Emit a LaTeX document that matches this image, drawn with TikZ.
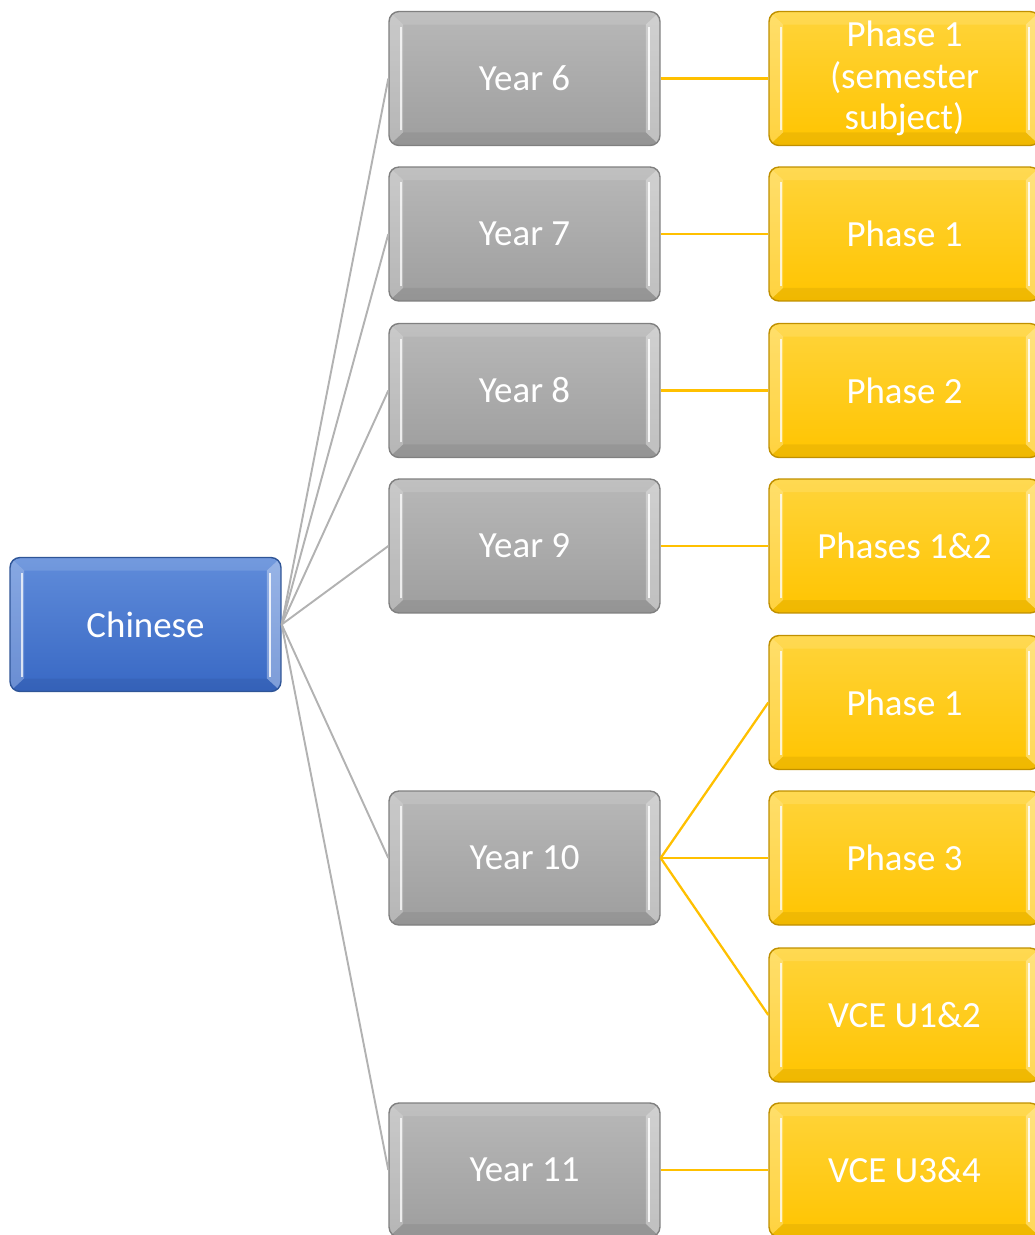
\documentclass[tikz,border=0pt]{standalone}
\usepackage{fontspec}
\setmainfont{Carlito}
\usepackage{tikz}
\usetikzlibrary{positioning}

\definecolor{bluetop}{RGB}{96,140,218}
\definecolor{bluebot}{RGB}{56,104,196}
\definecolor{blueedge}{RGB}{47,85,151}
\definecolor{greytop}{RGB}{184,184,184}
\definecolor{greybot}{RGB}{158,158,158}
\definecolor{greyedge}{RGB}{128,128,128}
\definecolor{goldtop}{RGB}{255,212,58}
\definecolor{goldbot}{RGB}{255,196,0}
\definecolor{goldedge}{RGB}{192,144,0}
\definecolor{goldlink}{RGB}{255,192,0}

\begin{document}
\begin{tikzpicture}[x=0.02cm, y=-0.02cm,
    bevel/.style={path picture={
        % Bevel kanten
        \fill[white, opacity=0.25, sharp corners] (path picture bounding box.north west) -- (path picture bounding box.south west)
            -- ([xshift=0.28cm, yshift=0.26cm]path picture bounding box.south west)
            -- ([xshift=0.28cm, yshift=-0.26cm]path picture bounding box.north west) -- cycle;
        \fill[white, opacity=0.35, sharp corners] (path picture bounding box.north east) -- (path picture bounding box.south east)
            -- ([xshift=-0.28cm, yshift=0.26cm]path picture bounding box.south east)
            -- ([xshift=-0.28cm, yshift=-0.26cm]path picture bounding box.north east) -- cycle;
        \fill[white, opacity=0.12, sharp corners] (path picture bounding box.north west) -- (path picture bounding box.north east)
            -- ([xshift=-0.28cm, yshift=-0.26cm]path picture bounding box.north east)
            -- ([xshift=0.28cm, yshift=-0.26cm]path picture bounding box.north west) -- cycle;
        \fill[black, opacity=0.06, sharp corners] (path picture bounding box.south west) -- (path picture bounding box.south east)
            -- ([xshift=-0.28cm, yshift=0.26cm]path picture bounding box.south east)
            -- ([xshift=0.28cm, yshift=0.26cm]path picture bounding box.south west) -- cycle;
        \draw[white, opacity=0.75, line width=1.6pt] ([xshift=0.24cm, yshift=0.3cm]path picture bounding box.south west)
            -- ([xshift=0.24cm, yshift=-0.3cm]path picture bounding box.north west);
        \draw[white, opacity=0.85, line width=1.6pt] ([xshift=-0.22cm, yshift=0.3cm]path picture bounding box.south east)
            -- ([xshift=-0.22cm, yshift=-0.3cm]path picture bounding box.north east);
    }},
    box/.style={bevel, rounded corners=0.2cm, minimum width=5.42cm, minimum height=2.68cm,
        inner sep=0pt, align=center, text=white, line width=0.8pt,
        font=\fontsize{21}{23.5}\selectfont},
    bluebox/.style={box, draw=blueedge, top color=bluetop, bottom color=bluebot},
    greybox/.style={box, draw=greyedge, top color=greytop, bottom color=greybot},
    goldbox/.style={box, draw=goldedge, top color=goldtop, bottom color=goldbot},
    greyline/.style={draw=black!30, line width=1.1pt},
    goldline/.style={draw=goldlink, line width=1.3pt}]

    \clip (0,0) rectangle (1035,1235);

    % Wurzel
    \node[bluebox] (chinese) at (145.5,624.5) {Chinese};

    % Jahrgaenge
    \foreach \n/\y/\t in {y6/78.5/Year 6, y7/234/Year 7, y8/390.5/Year 8, y9/546/Year 9,
                          y10/858/Year 10, y11/1170/Year 11} {
        \node[greybox] (\n) at (524.5,\y) {\t};
    }

    % Phasen
    \foreach \n/\y/\t in {p6/78.5/{Phase 1\\(semester\\subject)}, p7/234/Phase 1, p8/390.5/Phase 2,
                          p9/546/Phases 1\&2, p10a/702.5/Phase 1, p10b/858/Phase 3,
                          p10c/1015/VCE U1\&2, p11/1170/VCE U3\&4} {
        \node[goldbox] (\n) at (904.5,\y) {\t};
    }

    % Verbindungen
    \foreach \n in {y6, y7, y8, y9, y10, y11} {
        \draw[greyline] (chinese.east) -- (\n.west);
    }
    \foreach \a/\b in {y6/p6, y7/p7, y8/p8, y9/p9, y10/p10a, y10/p10b, y10/p10c, y11/p11} {
        \draw[goldline] (\a.east) -- (\b.west);
    }
\end{tikzpicture}
\end{document}
